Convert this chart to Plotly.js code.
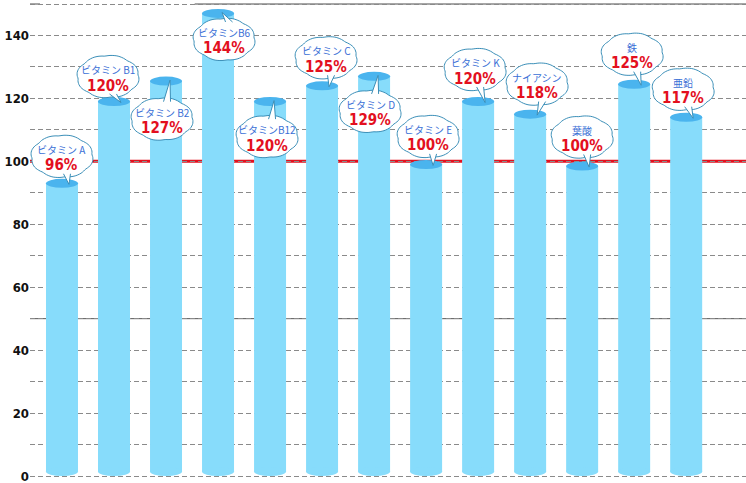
<!DOCTYPE html>
<html>
<head>
<meta charset="utf-8">
<script src="https://cdn.plot.ly/plotly-3.0.1.min.js"></script>
<style>
  html, body { margin: 0; padding: 0; background: #fff; }
  #graph { width: 746px; height: 483px; }
</style>
</head>
<body>
<div id="graph"></div>
<script>
// nutrient names, drawn bar heights, and the percentages written in the bubbles
var names = ['ビタミン A', 'ビタミン B1', 'ビタミン B2', 'ビタミンB6', 'ビタミンB12', 'ビタミン C',
             'ビタミン D', 'ビタミン E', 'ビタミン K', 'ナイアシン', '葉酸', '鉄', '亜鉛'];
var heights = [93, 119, 125.5, 147, 119, 124, 127, 99, 119, 115, 98.5, 124.5, 114];
var percents = [96, 120, 127, 144, 120, 125, 129, 100, 120, 118, 100, 125, 117];
var yTicks = [0, 20, 40, 60, 80, 100, 120, 140];

// bubble centre offset from bar top, in screen pixels (dy > 0 = below the top)
var bubbleDx = [0, -6, -4, 6, -3, 4, -4, 2, -3, 7, 0, -2, -3];
var bubbleDy = [-27, -25, 38, 26, 35, -28, 35, -28, -32, -30, -29, -30, -28];

var yRange = [-2.22, 151.27];
var pxPerUnit = 483 / (yRange[1] - yRange[0]);
var capRy = 4.5;
var capBase = capRy / pxPerUnit;

var bodyColor = '#87dcfb';
var capColor = '#4ab4ee';
var bubbleLine = '#3b8fb8';

function cloudPath(cx, cy, rx, ry) {
  var s = '';
  for (var k = 0; k <= 96; k++) {
    var t = k / 96 * 2 * Math.PI;
    var w = 1 + 0.05 * Math.abs(Math.sin(4 * t + 0.4));
    var x = cx + rx * w * Math.cos(t);
    var y = cy + ry * w * Math.sin(t);
    s += (k === 0 ? 'M' : 'L') + x.toFixed(1) + ',' + (-y).toFixed(1);
  }
  return s + 'Z';
}

function tailPath(cx, cy, ry) {
  var below = cy > 0;
  var edge = below ? cy - ry * 0.85 : cy + ry * 0.85;
  var bx = cx + 5;
  var tipX = below ? 4 : 7;
  var tipY = below ? -1 : 1;
  return 'M' + (bx - 3.5) + ',' + (-edge) + 'L' + tipX + ',' + (-tipY) + 'L' + (bx + 3.5) + ',' + (-edge);
}

var shapes = [];
// special horizontal lines behind the bars
shapes.push({type: 'line', xref: 'paper', x0: 0, x1: 1, yref: 'y', y0: 50, y1: 50,
             line: {color: '#555', width: 1}, layer: 'below'});
shapes.push({type: 'line', xref: 'paper', x0: 0, x1: 1, yref: 'y', y0: 100, y1: 100,
             line: {color: '#e3101e', width: 3}, layer: 'below'});
shapes.push({type: 'line', xref: 'paper', x0: 0, x1: 0.014, yref: 'y', y0: 150, y1: 150,
             line: {color: '#888', width: 1.5}, layer: 'below'});
shapes.push({type: 'line', xref: 'paper', x0: 0.23, x1: 1, yref: 'y', y0: 150, y1: 150,
             line: {color: '#888', width: 1.5}, layer: 'below'});

names.forEach(function (n, i) {
  // rounded bottom
  shapes.push({type: 'circle', xref: 'x', yref: 'y', xsizemode: 'pixel', ysizemode: 'pixel',
               xanchor: n, yanchor: 0, x0: -16, x1: 16, y0: 0, y1: capRy * 2,
               fillcolor: bodyColor, line: {width: 0}, layer: 'above'});
  // top cap
  shapes.push({type: 'circle', xref: 'x', yref: 'y', xsizemode: 'pixel', ysizemode: 'pixel',
               xanchor: n, yanchor: heights[i], x0: -16, x1: 16, y0: -capRy, y1: capRy,
               fillcolor: capColor, line: {width: 0}, layer: 'above'});
});

var annotations = [];
names.forEach(function (n, i) {
  var cx = bubbleDx[i], cy = bubbleDy[i];
  shapes.push({type: 'path', xref: 'x', yref: 'y', xsizemode: 'pixel', ysizemode: 'pixel',
               xanchor: n, yanchor: heights[i], path: cloudPath(cx, cy, 30, 20.5),
               fillcolor: '#fff', line: {color: bubbleLine, width: 1}, layer: 'above'});
  shapes.push({type: 'path', xref: 'x', yref: 'y', xsizemode: 'pixel', ysizemode: 'pixel',
               xanchor: n, yanchor: heights[i], path: tailPath(cx, cy, 20.5),
               fillcolor: '#fff', line: {color: bubbleLine, width: 1}, layer: 'above'});
  annotations.push({x: n, y: heights[i], xref: 'x', yref: 'y', showarrow: false,
                    text: n, xshift: cx, yshift: -(cy - 7),
                    font: {family: 'Noto Sans CJK JP', size: 10, color: '#3a6fd6'}});
  annotations.push({x: n, y: heights[i], xref: 'x', yref: 'y', showarrow: false,
                    text: '<b>' + percents[i] + '%</b>', xshift: cx, yshift: -(cy + 9),
                    font: {family: 'DejaVu Sans Condensed', size: 15, color: '#e3101e'}});
});

var bars = {
  type: 'bar',
  x: names,
  y: heights.map(function (h) { return h - capBase; }),
  base: capBase,
  width: 0.615,
  marker: {color: bodyColor, line: {width: 0}},
  hoverinfo: 'skip'
};

var layout = {
  width: 746, height: 483,
  margin: {l: 30, r: 0, t: 0, b: 0},
  paper_bgcolor: '#fff', plot_bgcolor: '#fff',
  showlegend: false,
  xaxis: {type: 'category', range: [-0.615, 13.15], showticklabels: false,
          showgrid: false, zeroline: false, showline: false, ticks: ''},
  yaxis: {range: yRange, tickvals: yTicks, showline: false, zeroline: false, ticks: '',
          ticklabeloverflow: 'allow',
          showgrid: true, gridcolor: '#8a8a8a', griddash: '5px,3px', gridwidth: 1,
          minor: {dtick: 10, showgrid: true, gridcolor: '#8a8a8a', griddash: '5px,3px', gridwidth: 1},
          tickfont: {family: 'DejaVu Sans Condensed', size: 13, color: '#111', weight: 'bold'}},
  shapes: shapes,
  annotations: annotations
};

Plotly.newPlot('graph', [bars], layout, {staticPlot: true});
</script>
</body>
</html>
